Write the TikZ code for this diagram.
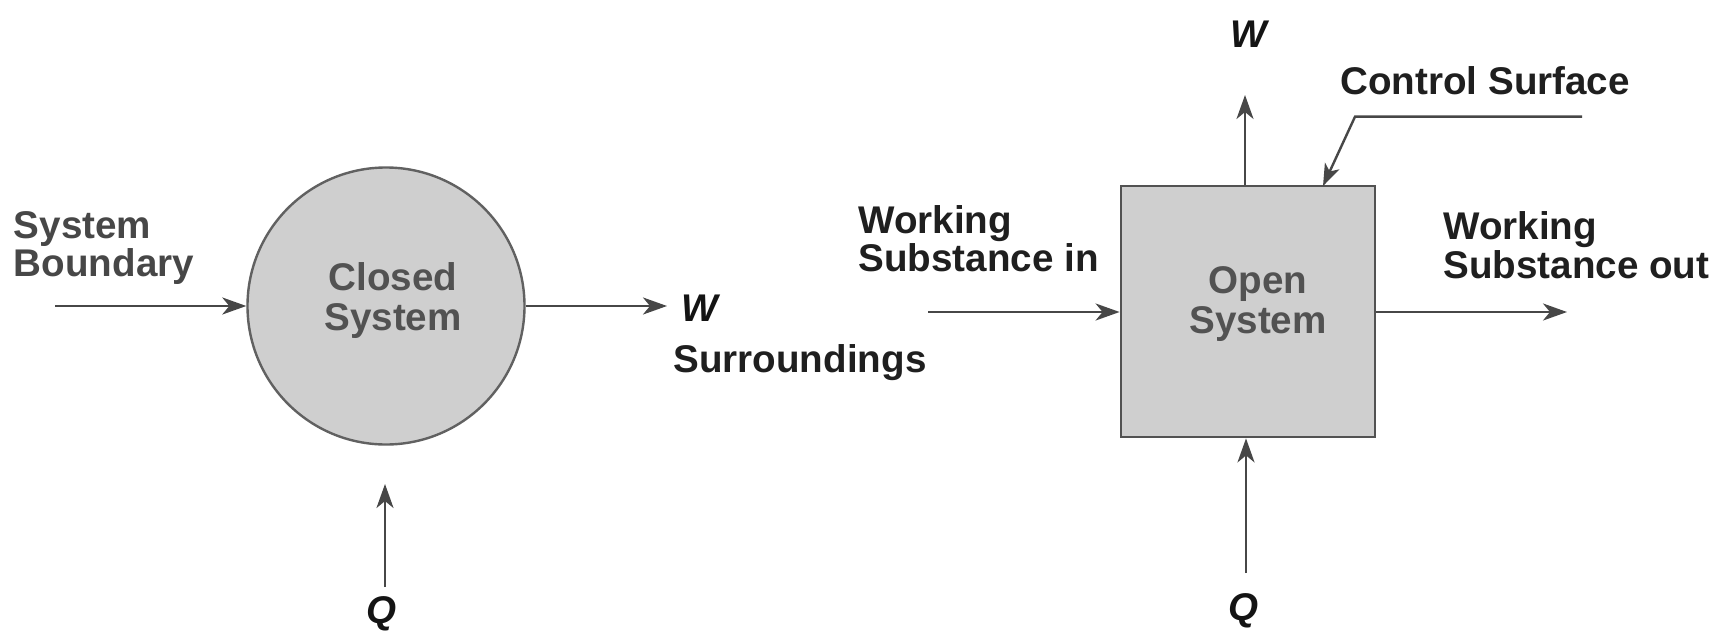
\documentclass[tikz,border=0pt]{standalone}
\usepackage{fontspec}
\setmainfont{Liberation Sans}
\usetikzlibrary{arrows.meta}
\begin{document}
\begin{tikzpicture}[x=0.5pt,y=-0.5pt,
  lbl/.style={font=\fontsize{19.3}{17}\selectfont\bfseries, text=black!88, inner sep=0pt, align=left, anchor=base west},
  lightlbl/.style={lbl, text=black!72},
  inlbl/.style={font=\fontsize{19.3}{20}\selectfont\bfseries, text=black!68, inner sep=0pt, align=center, anchor=base},
  sym/.style={font=\fontsize{19.3}{20}\selectfont\bfseries\itshape, text=black!92, inner sep=0pt},
  conn/.style={draw=black!72, line width=1.3pt, -{Stealth[length=12pt,width=8.5pt,inset=3.5pt]}},
  leader/.style={draw=black!72, line width=1.2pt, -{Stealth[length=11pt,width=8pt,inset=3pt]}},
  sysfill/.style={fill=black!19, draw=black!62, line width=1.2pt}
]
\fill[white] (0,0) rectangle (1723,631);
\useasboundingbox (0,0) rectangle (1723,631);

% ---------- Closed system ----------
\node[circle, sysfill, minimum size=138.5pt, inner sep=0pt] (cs) at (386,306) {};
\node[inlbl] (cslbl) at (393,330) {Closed\\System};
\node[lightlbl] (sb) at (13.5,276) {System\\Boundary};
\node[sym, anchor=base west] (wl) at (681,321.7) {W};
\node[lbl] (sur) at (673,372) {Surroundings};
\node[sym, anchor=base] (ql) at (382,623) {Q};

\coordinate (sbstart) at (55,306);
\coordinate (wlend) at (667,306);
\coordinate (qlbase) at (385,587);
\coordinate (qltip) at (385,484);

\draw[conn] (sbstart) -- (cs.west);
\draw[conn] (cs.east) -- (wlend);
\draw[conn] (qlbase) -- (qltip);

% ---------- Open system ----------
\node[rectangle, sysfill, line width=1.4pt, draw=black!68, minimum width=127pt, minimum height=125.5pt, inner sep=0pt] (os) at (1248,311.5) {};
\node[inlbl] (oslbl) at (1258,333) {Open\\System};
\node[lbl] (win) at (858,271.7) {Working\\Substance in};
\node[lbl] (wout) at (1443,278) {Working\\Substance out};
\node[sym, anchor=base] (wr) at (1249,47.7) {W};
\node[sym, anchor=base] (qr) at (1243,620) {Q};
\node[lbl] (csurf) at (1340,95) {Control Surface};

\coordinate (winstart) at (928,312);
\coordinate (woutend) at (1567,312);
\coordinate (wrtip) at (1245,95);
\coordinate (qrbase) at (1246,573);
\coordinate (ldA) at (1582,116.7);
\coordinate (ldB) at (1355,116.7);
\coordinate (ldtip) at (1323,186);

\draw[conn] (winstart) -- (winstart -| os.west);
\draw[conn] (woutend -| os.east) -- (woutend);
\draw[conn] (wrtip |- os.north) -- (wrtip);
\draw[conn] (qrbase) -- (qrbase |- os.south);
\draw[leader] (ldA) -- (ldB) -- (ldtip);
\end{tikzpicture}
\end{document}
